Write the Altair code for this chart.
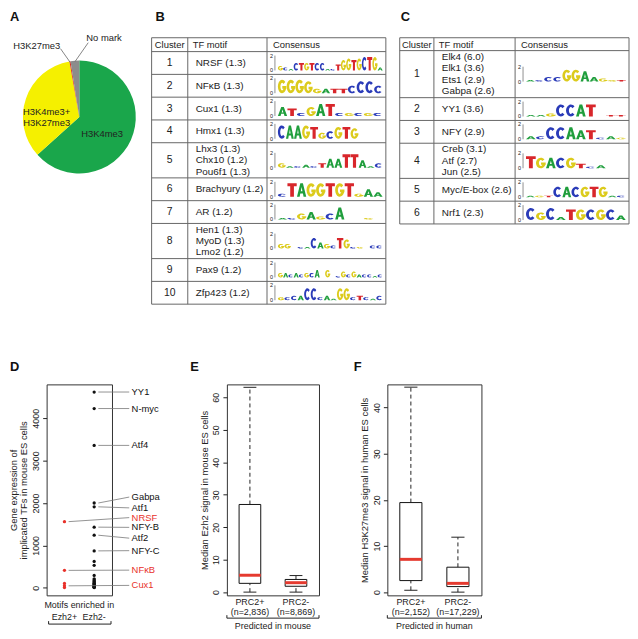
import math
import altair as alt
import pandas as pd

FONT = "Liberation Sans"
INK = "#222222"

# ---------------- Panel A : pie ----------------
PIE_CATS = ["H3K4me3", "H3K4me3+H3K27me3", "H3K27me3", "No mark"]
PIE_PCT = [63.3, 33.9, 0.3, 2.5]
PIE_COLORS = ["#1aa64b", "#f5f000", "#dc2a1e", "#8c8c8c"]

# ---------------- Panel B : table ----------------
B_CLUSTERS = ["1", "2", "3", "4", "5", "6", "7", "8", "9", "10"]
B_MOTIFS = [
    ["NRSF (1.3)"], ["NFκB (1.3)"], ["Cux1 (1.3)"], ["Hmx1 (1.3)"],
    ["Lhx3 (1.3)", "Chx10 (1.2)", "Pou6f1 (1.3)"], ["Brachyury (1.2)"], ["AR (1.2)"],
    ["Hen1 (1.3)", "MyoD (1.3)", "Lmo2 (1.2)"], ["Pax9 (1.2)"], ["Zfp423 (1.2)"],
]
B_LOGO_SEQ = ["GCACTGTCCACTGGTGCTGA", "GGGGGATTCCCC", "ATCGATCGCGC", "CAAGTGCGTG---",
              "GACACTAATTAAC", "CTAGGTGTGAA", "ACGAGCA--G-", "GG-CACAGCTGCG-CC",
              "GACACGCA-G-CGCGACCAC", "GCCACCCAAGGCTCAC"]
B_LOGO_BITS = ["32155555511478789992", "999833335885", "65268822222", "9999845887000",
               "3112136699513", "29999999253", "11452480010", "3301174327611022",
               "33232335050142422212", "2233882318823213"]

# ---------------- Panel C : table ----------------
C_CLUSTERS = ["1", "2", "3", "4", "5", "6"]
C_MOTIFS = [
    ["Elk4 (6.0)", "Elk1 (3.6)", "Ets1 (2.9)", "Gabpa (2.6)"], ["YY1 (3.6)"], ["NFY (2.9)"],
    ["Creb (3.1)", "Atf (2.7)", "Jun (2.5)"], ["Myc/E-box (2.6)"], ["Nrf1 (2.3)"],
]
C_LOGO_SEQ = ["ACCCGGAAGGT", "AAGCCAT-TT", "ACCCAATCAG", "TGACGTCA--", "AGTCACGTGAC", "CGCATGCGCA"]
C_LOGO_BITS = ["11338873211", "1128888011", "2288866121", "8777731200", "11177777711", "8582777773"]

# ---------------- Panel D : gene expression ----------------
D_EZH2_MINUS = [4620, 4230, 3360, 2000, 1910, 1430, 1240, 870, 620, 530, 290, 210, 185,
                160, 140, 120, 105, 90, 75, 60, 50, 40, 30, 20, 15, 10, 5]
D_EZH2_PLUS = [1560, 410, 100, 45, 5]
D_LABELS = ["YY1", "N-myc", "Atf4", "Gabpa", "Atf1", "NRSF", "NFY-B", "Atf2", "NFY-C", "NFκB", "Cux1"]
D_LABEL_GROUP = ["Ezh2-", "Ezh2-", "Ezh2-", "Ezh2-", "Ezh2-", "Ezh2+", "Ezh2-", "Ezh2-", "Ezh2-", "Ezh2+", "Ezh2+"]
D_LABEL_VALUE = [4620, 4230, 3360, 2000, 1910, 1560, 1430, 1240, 870, 410, 45]
# vertical placement of the label texts (de-overlapped, in data units)
D_LABEL_TEXT_AT = [4620, 4230, 3360, 2140, 1885, 1655, 1425, 1170, 875, 415, 55]

# ---------------- Panels E / F : box plots ----------------
BOX_GROUPS = ["PRC2+", "PRC2-"]
E_N = ["(n=2,836)", "(n=8,869)"]
E_MIN = [0.0, 0.0]
E_Q1 = [2.7, 1.8]
E_MED = [5.2, 2.9]
E_Q3 = [27.0, 3.9]
E_MAX = [63.1, 5.1]
F_N = ["(n=2,152)", "(n=17,229)"]
F_MIN = [0.4, 0.0]
F_Q1 = [2.5, 1.2]
F_MED = [7.1, 1.9]
F_Q3 = [19.4, 5.4]
F_MAX = [44.4, 11.9]

LETTER_COLORS = {"A": "#1f9e3c", "C": "#2a3bb8", "G": "#dccb1c", "T": "#d8262b"}
PLOT_H = 213


def panel_letter(letter, dx, dy):
    return alt.Chart(pd.DataFrame({"t": [letter]})).mark_text(
        font=FONT, fontSize=13, fontWeight="bold", color="#111", align="left", baseline="middle").encode(
        x=alt.value(dx), y=alt.value(dy), text="t:N")


# ---------- sequence-logo glyphs (letter outlines stretched to the column height) ----------
def _poly(pts):
    s = "M%.2f,%.2f" % pts[0]
    for p in pts[1:]:
        s += "L%.2f,%.2f" % p
    return s + "Z"


def glyph(letter, w, h):
    if letter == "T":
        tb, sw = 0.22 * h, 0.4 * w
        a, b = (w - sw) / 2, (w + sw) / 2
        return _poly([(0, -h), (w, -h), (w, -h + tb), (b, -h + tb), (b, 0), (a, 0), (a, -h + tb), (0, -h + tb)])
    if letter == "A":
        outer = [(0, 0), (0.36 * w, -h), (0.64 * w, -h), (w, 0), (0.71 * w, 0),
                 (0.645 * w, -0.24 * h), (0.355 * w, -0.24 * h), (0.29 * w, 0)]
        hole = [(0.41 * w, -0.4 * h), (0.59 * w, -0.4 * h), (0.5 * w, -0.72 * h)]
        return _poly(outer) + _poly(hole)
    cx, cy = w / 2, -h / 2
    rx, ry = w / 2, h / 2
    rxi, ryi = rx - 0.3 * w, ry - 0.21 * h
    a1 = math.radians(42)
    a2 = math.radians(-42) if letter == "C" else 0.0
    p1 = (cx + rx * math.cos(a1), cy - ry * math.sin(a1))
    p2 = (cx + rx * math.cos(a2), cy - ry * math.sin(a2))
    p3 = (cx + rxi * math.cos(a2), cy - ryi * math.sin(a2))
    p4 = (cx + rxi * math.cos(a1), cy - ryi * math.sin(a1))
    s = ("M%.2f,%.2f A%.2f,%.2f 0 1 0 %.2f,%.2f L%.2f,%.2f A%.2f,%.2f 0 1 1 %.2f,%.2f Z"
         % (p1[0], p1[1], rx, ry, p2[0], p2[1], p3[0], p3[1], rxi, ryi, p4[0], p4[1]))
    if letter == "G":
        y0, y1 = cy - 0.04 * h, cy + 0.17 * h
        s += _poly([(cx + 0.02 * w, y0), (cx + 0.02 * w, y1), (w, y1), (w, y0)])
    return s


# ---------------- Panel A ----------------
def pie_panel():
    W, H = 92, 140
    CX, CY, R = 33, 80, 57
    cum = [0]
    for v in PIE_PCT:
        cum.append(cum[-1] + v)
    pie = pd.DataFrame({"cat": PIE_CATS, "pct": PIE_PCT, "ord": list(range(len(PIE_CATS)))})
    pie["cx"] = CX
    pie["cy"] = CY
    xs = alt.Scale(domain=[0, W], nice=False, zero=False)
    ys = alt.Scale(domain=[0, H], nice=False, zero=False, reverse=True)

    arcs = alt.Chart(pie).mark_arc(outerRadius=R, strokeWidth=0).encode(
        theta=alt.Theta("pct:Q", stack=True),
        order=alt.Order("ord:Q"),
        color=alt.Color("cat:N", scale=alt.Scale(domain=PIE_CATS, range=PIE_COLORS), legend=None),
        x=alt.X("cx:Q", scale=xs, axis=None),
        y=alt.Y("cy:Q", scale=ys, axis=None),
    )

    def edge(frac_mid):
        ang = 2 * math.pi * frac_mid / 100.0
        return CX + (R - 1) * math.sin(ang), CY - (R - 1) * math.cos(ang)

    ex1, ey1 = edge((cum[2] + cum[3]) / 2)
    ex2, ey2 = edge((cum[3] + cum[4]) / 2)
    leaders = pd.DataFrame({"x": [14, 42], "y": [11, 5], "x2": [ex1, ex2], "y2": [ey1, ey2]})
    lines = alt.Chart(leaders).mark_rule(color="#666", strokeWidth=0.8).encode(
        x=alt.X("x:Q", scale=xs, axis=None), y=alt.Y("y:Q", scale=ys, axis=None), x2="x2:Q", y2="y2:Q")

    lab = pd.DataFrame({
        "t": ["H3K27me3", "No mark", "H3K4me3", "H3K4me3+\nH3K27me3"],
        "x": [-10, 58, 56, 0], "y": [8, 0, 97, 75],
    })
    labels = alt.Chart(lab).mark_text(font=FONT, fontSize=9.5, color=INK, lineBreak="\n",
                                      lineHeight=11).encode(
        x=alt.X("x:Q", scale=xs, axis=None), y=alt.Y("y:Q", scale=ys, axis=None), text="t:N")
    return alt.layer(arcs, lines, labels, panel_letter("A", -37, -21)).properties(width=W, height=H)


# ---------------- Panels B / C ----------------
def table_panel(letter, clusters, motifs, seqs, bits, colw, head_h, full_h, letter_dx):
    W = sum(colw)
    x1, x2 = colw[0], colw[0] + colw[1]
    rows_h = [max(23.0, 12.0 * len(m) - 0.5) for m in motifs]
    tops = [head_h]
    for h in rows_h[:-1]:
        tops.append(tops[-1] + h)
    H = head_h + sum(rows_h)
    xs = alt.Scale(domain=[0, W], nice=False, zero=False)
    ys = alt.Scale(domain=[0, H], nice=False, zero=False, reverse=True)
    X = lambda f: alt.X(f, scale=xs, axis=None)
    Y = lambda f: alt.Y(f, scale=ys, axis=None)

    hl = pd.DataFrame({"y": [0, head_h] + [t + h for t, h in zip(tops, rows_h)]})
    hl["x"], hl["x2"] = 0, W
    vl = pd.DataFrame({"x": [0, x1, x2, W]})
    vl["y"], vl["y2"] = 0, H
    grid_h = alt.Chart(hl).mark_rule(color="#666", strokeWidth=1).encode(x=X("x:Q"), x2="x2:Q", y=Y("y:Q"))
    grid_v = alt.Chart(vl).mark_rule(color="#666", strokeWidth=1).encode(x=X("x:Q"), y=Y("y:Q"), y2="y2:Q")

    hdr_c = pd.DataFrame({"t": ["Cluster"], "x": [x1 / 2], "y": [head_h / 2 + 0.5]})
    hdr_l = pd.DataFrame({"t": ["TF motif", "Consensus"], "x": [x1 + 5, x2 + 6], "y": [head_h / 2 + 0.5] * 2})
    th_c = alt.Chart(hdr_c).mark_text(font=FONT, fontSize=9.5, color=INK, baseline="middle").encode(
        x=X("x:Q"), y=Y("y:Q"), text="t:N")
    th_l = alt.Chart(hdr_l).mark_text(font=FONT, fontSize=9.5, color=INK, baseline="middle", align="left").encode(
        x=X("x:Q"), y=Y("y:Q"), text="t:N")

    centers = [t + h / 2 for t, h in zip(tops, rows_h)]
    cl = pd.DataFrame({"t": clusters, "x": [x1 / 2] * len(clusters), "y": centers})
    t_cl = alt.Chart(cl).mark_text(font=FONT, fontSize=10.5, color=INK, baseline="middle").encode(
        x=X("x:Q"), y=Y("y:Q"), text="t:N")

    mrows = []
    for m, c in zip(motifs, centers):
        n = len(m)
        for i, s in enumerate(m):
            mrows.append({"t": s, "x": x1 + 8, "y": c + (i - (n - 1) / 2) * 11.5})
    t_m = alt.Chart(pd.DataFrame(mrows)).mark_text(font=FONT, fontSize=10, color=INK, baseline="middle",
                                                   align="left").encode(x=X("x:Q"), y=Y("y:Q"), text="t:N")

    lx0 = x2 + 11
    span = colw[2] - 14
    letters = []
    axes = []
    for seq, bs, c in zip(seqs, bits, centers):
        base = c + 7.5
        slot = span / len(seq)
        for i, (ch, b) in enumerate(zip(seq, bs)):
            hb = int(b)
            if ch == "-" or hb == 0:
                continue
            hpx = hb / 10.0 * full_h
            letters.append({"letter": ch, "x": lx0 + i * slot, "y": base,
                            "path": glyph(ch, slot * 0.97, hpx)})
        axes.append({"x": x2 + 8, "y": base - full_h, "y2": base})
    ldf = pd.DataFrame(letters)
    logo = alt.Chart(ldf).mark_point(filled=True, size=4, opacity=1, strokeWidth=0).encode(
        x=X("x:Q"), y=Y("y:Q"),
        shape=alt.Shape("path:N", scale=None, legend=None),
        color=alt.Color("letter:N", scale=alt.Scale(domain=list(LETTER_COLORS), range=list(LETTER_COLORS.values())),
                        legend=None),
    )
    adf = pd.DataFrame(axes)
    ax_line = alt.Chart(adf).mark_rule(color="#444", strokeWidth=0.6).encode(x=X("x:Q"), y=Y("y:Q"), y2="y2:Q")
    adf2 = pd.DataFrame([{"t": t, "x": a["x"] - 3.5, "y": a[k]} for a in axes for t, k in (("2", "y"), ("0", "y2"))])
    ax_txt = alt.Chart(adf2).mark_text(font=FONT, fontSize=5.5, color=INK, baseline="middle").encode(
        x=X("x:Q"), y=Y("y:Q"), text="t:N")

    return alt.layer(grid_h, grid_v, th_c, th_l, t_cl, t_m, ax_line, ax_txt, logo,
                     panel_letter(letter, letter_dx, -21)).properties(width=W, height=H)


# ---------------- Panel D ----------------
def axis_y(values, title):
    return alt.Axis(values=values, format="d", labelAngle=270, labelAlign="center", labelBaseline="bottom",
                    labelFontSize=9, labelColor=INK, labelPadding=2, tickSize=4, tickColor="#222",
                    domain=False, grid=False, title=title, titleFontSize=9.5, titleFontWeight="normal",
                    titleColor=INK, titlePadding=3, titleLineHeight=10.5, titleFont=FONT, labelFont=FONT)


def d_panel():
    W, H = 66, PLOT_H
    xs = alt.Scale(domain=[0.4, 2.6], nice=False, zero=False)
    ys = alt.Scale(domain=[-180, 4800], nice=False, zero=False)
    AX = axis_y([0, 1000, 2000, 3000, 4000], ["Gene expression of", "implicated TFs in mouse ES cells"])
    Y = lambda f: alt.Y(f, scale=ys, axis=AX)
    cols = alt.Scale(domain=["Ezh2+", "Ezh2-"], range=["#e8312a", "#111111"])
    pts = pd.DataFrame({
        "pos": [2] * len(D_EZH2_MINUS) + [1] * len(D_EZH2_PLUS),
        "v": D_EZH2_MINUS + D_EZH2_PLUS,
        "g": ["Ezh2-"] * len(D_EZH2_MINUS) + ["Ezh2+"] * len(D_EZH2_PLUS),
    })
    points = alt.Chart(pts).mark_circle(size=11, opacity=1).encode(
        x=alt.X("pos:Q", scale=xs, axis=None), y=Y("v:Q"),
        color=alt.Color("g:N", scale=cols, legend=None))
    lab = pd.DataFrame({"t": D_LABELS, "g": D_LABEL_GROUP, "v": D_LABEL_VALUE, "ty": D_LABEL_TEXT_AT})
    lab["pos"] = [1 if g == "Ezh2+" else 2 for g in D_LABEL_GROUP]
    lines = alt.Chart(lab).transform_calculate(xs0="datum.pos + 0.14", xe="3.18").mark_rule(
        color="#777", strokeWidth=0.8).encode(
        x=alt.X("xs0:Q", scale=xs, axis=None), x2="xe:Q", y=Y("v:Q"), y2="ty:Q")
    texts = alt.Chart(lab).transform_calculate(xt="3.26").mark_text(
        font=FONT, fontSize=9.5, align="left", baseline="middle").encode(
        x=alt.X("xt:Q", scale=xs, axis=None), y=Y("ty:Q"), text="t:N",
        color=alt.Color("g:N", scale=cols, legend=None))
    grp = pd.DataFrame({"pos": [1, 2], "t": ["Ezh2+", "Ezh2-"]})
    gtext = alt.Chart(grp).mark_text(font=FONT, fontSize=9, color=INK, baseline="middle").encode(
        x=alt.X("pos:Q", scale=xs, axis=None), y=alt.value(H + 22), text="t:N")
    one = pd.DataFrame({"t": ["Motifs enriched in"]})
    mtext = alt.Chart(one).mark_text(font=FONT, fontSize=9, color=INK, baseline="middle").encode(
        x=alt.value(W / 2), y=alt.value(H + 10), text="t:N")
    br = alt.Chart(one).mark_rule(color="#222", strokeWidth=1).encode(
        x=alt.value(2), x2=alt.value(W - 1), y=alt.value(H + 29))
    bl = alt.Chart(one).mark_rule(color="#222", strokeWidth=1).encode(
        x=alt.value(2), y=alt.value(H + 26), y2=alt.value(H + 29))
    brr = alt.Chart(one).mark_rule(color="#222", strokeWidth=1).encode(
        x=alt.value(W - 1), y=alt.value(H + 26), y2=alt.value(H + 29))
    return alt.layer(points, lines, texts, gtext, mtext, br, bl, brr, panel_letter("D", -37, -17.5)).properties(
        width=W, height=H, view=alt.ViewBackground(stroke="#333", strokeWidth=1))


# ---------------- Panels E / F ----------------
def box_panel(letter, ns, mn, q1, med, q3, mx, ydom, yticks, ytitle, xtitle, letter_dx, W):
    H = PLOT_H
    df = pd.DataFrame({"g": BOX_GROUPS, "pos": [1, 2], "n": ns, "mn": mn, "q1": q1, "med": med,
                       "q3": q3, "mx": mx})
    xs = alt.Scale(domain=[0.5, 2.5], nice=False, zero=False)
    ys = alt.Scale(domain=ydom, nice=False, zero=False)
    AX = axis_y(yticks, ytitle)
    Y = lambda f: alt.Y(f, scale=ys, axis=AX)
    base = alt.Chart(df).transform_calculate(
        lo="datum.pos - 0.235", hi="datum.pos + 0.235", cl="datum.pos - 0.14", cr="datum.pos + 0.14")
    X = lambda f: alt.X(f, scale=xs, axis=None)
    wu = base.mark_rule(color="#222", strokeWidth=1, strokeDash=[4, 3]).encode(x=X("pos:Q"), y=Y("q3:Q"), y2="mx:Q")
    wl = base.mark_rule(color="#222", strokeWidth=1, strokeDash=[4, 3]).encode(x=X("pos:Q"), y=Y("mn:Q"), y2="q1:Q")
    cu = base.mark_rule(color="#222", strokeWidth=1).encode(x=X("cl:Q"), x2="cr:Q", y=Y("mx:Q"))
    cd = base.mark_rule(color="#222", strokeWidth=1).encode(x=X("cl:Q"), x2="cr:Q", y=Y("mn:Q"))
    box = base.mark_rect(fill="white", stroke="#111", strokeWidth=1).encode(
        x=X("lo:Q"), x2="hi:Q", y=Y("q1:Q"), y2="q3:Q")
    md = base.mark_rule(color="#e53a2f", strokeWidth=3).encode(x=X("lo:Q"), x2="hi:Q", y=Y("med:Q"))
    gl = base.mark_text(font=FONT, fontSize=9, color=INK, baseline="middle").encode(
        x=X("pos:Q"), y=alt.value(H + 7), text="g:N")
    nl = base.mark_text(font=FONT, fontSize=9, color=INK, baseline="middle").encode(
        x=X("pos:Q"), y=alt.value(H + 16.5), text="n:N")
    one = pd.DataFrame({"t": [xtitle]})
    xt = alt.Chart(one).mark_text(font=FONT, fontSize=9, color=INK, baseline="middle").encode(
        x=alt.value(W / 2), y=alt.value(H + 31), text="t:N")
    br = alt.Chart(one).mark_rule(color="#222", strokeWidth=1).encode(
        x=alt.value(0), x2=alt.value(W), y=alt.value(H + 23))
    bl = alt.Chart(one).mark_rule(color="#222", strokeWidth=1).encode(
        x=alt.value(0), y=alt.value(H + 20), y2=alt.value(H + 23))
    brr = alt.Chart(one).mark_rule(color="#222", strokeWidth=1).encode(
        x=alt.value(W), y=alt.value(H + 20), y2=alt.value(H + 23))
    return alt.layer(wu, wl, cu, cd, box, md, gl, nl, xt, br, bl, brr,
                     panel_letter(letter, letter_dx, -17.5)).properties(
        width=W, height=H, view=alt.ViewBackground(stroke="#333", strokeWidth=1))


A = pie_panel()
B = table_panel("B", B_CLUSTERS, B_MOTIFS, B_LOGO_SEQ, B_LOGO_BITS, [36.5, 80, 120], 14, 15, 4)
C = table_panel("C", C_CLUSTERS, C_MOTIFS, C_LOGO_SEQ, C_LOGO_BITS, [34.5, 82, 115], 13, 15, 1)
D = d_panel()
E = box_panel("E", E_N, E_MIN, E_Q1, E_MED, E_Q3, E_MAX, [-1, 64], [0, 10, 20, 30, 40, 50, 60],
              "Median Ezh2 signal in mouse ES cells", "Predicted in mouse", -37, 93)
F = box_panel("F", F_N, F_MIN, F_Q1, F_MED, F_Q3, F_MAX, [-0.7, 45], [0, 10, 20, 30, 40],
              "Median H3K27me3 signal in human ES cells", "Predicted in human", -34, 95)

IND = dict(color="independent", shape="independent")
row1 = alt.hconcat(A, alt.hconcat(B, C, spacing=12.5).resolve_scale(**IND), spacing=13).resolve_scale(**IND)
row2 = alt.hconcat(D, alt.hconcat(E, F, spacing=33).resolve_scale(**IND), spacing=29).resolve_scale(**IND)
chart = alt.vconcat(row1, row2, spacing=56).resolve_scale(**IND).properties(
    padding=0).configure_view(strokeWidth=0).configure_axis(
    labelFont=FONT, titleFont=FONT).configure_title(font=FONT)

chart.save("out.html", embed_options={"renderer": "svg", "actions": False})
